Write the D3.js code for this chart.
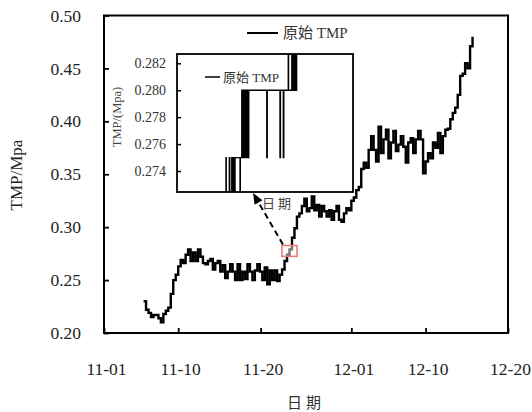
<!DOCTYPE html>
<html><head><meta charset="utf-8">
<script src="https://cdn.jsdelivr.net/npm/d3@7"></script>
<style>body{margin:0;background:#fff}svg text{font-family:"Liberation Serif","Times New Roman","Noto Sans CJK SC",serif}</style>
</head><body>
<svg id="c" width="532" height="412"></svg>
<script>
// ---------------- data ----------------
const xTickLabels = ["11-01","11-10","11-20","12-01","12-10","12-20"];
const yTicks = [0.20,0.25,0.30,0.35,0.40,0.45,0.50];
const year = 2019;
const seriesStart = "2019-11-05 19:12";   // first sample
const stepHours = 7.2;                   // sampling step
const tmp = [
0.230,0.222,0.219,0.215,0.217,0.217,0.214,0.210,0.218,0.221,
0.224,0.237,0.250,0.255,0.263,0.269,0.266,0.274,0.279,0.268,
0.276,0.268,0.279,0.272,0.266,0.265,0.268,0.270,0.260,0.266,
0.268,0.258,0.264,0.252,0.258,0.265,0.258,0.250,0.265,0.250,
0.258,0.251,0.265,0.258,0.250,0.259,0.265,0.258,0.250,0.262,
0.246,0.259,0.250,0.259,0.249,0.255,0.260,0.268,0.274,0.279,
0.290,0.299,0.310,0.313,0.320,0.327,0.315,0.318,0.329,0.316,
0.321,0.310,0.320,0.315,0.310,0.316,0.307,0.315,0.320,0.307,
0.305,0.313,0.318,0.316,0.325,0.328,0.335,0.338,0.355,0.361,
0.356,0.373,0.386,0.373,0.362,0.395,0.370,0.383,0.392,0.365,
0.380,0.391,0.372,0.378,0.386,0.376,0.361,0.380,0.384,0.370,
0.383,0.391,0.383,0.351,0.362,0.370,0.365,0.380,0.375,0.389,
0.370,0.386,0.392,0.393,0.402,0.408,0.413,0.425,0.443,0.445,
0.455,0.450,0.471,0.480
];
// zoomed window (red box)
const zoomWindow = {t0:"2019-11-22 14:00", t1:"2019-11-24 10:00", v0:0.2724, v1:0.2827};
// inset series (raw TMP within zoom window; time in window units 0..100)
const insetYTicks = [0.274,0.276,0.278,0.280,0.282];
const insetT = [0,27.8,28.0,29.7,30.0,31.1,31.6,32.0,32.5,33.0,35.8,36.0,36.8,37.3,37.8,38.3,38.8,39.3,39.8,40.3,40.8,51.0,51.3,58.5,58.8,60.4,60.7,63.2,63.4,65.2,65.7,66.2,66.7,67.2,67.6,68.0,100];
const insetTMP = [0.2715,0.275,0.2715,0.275,0.2715,0.275,0.2715,0.275,0.2715,0.275,0.2715,0.275,0.280,0.275,0.280,0.275,0.280,0.275,0.280,0.275,0.280,0.275,0.280,0.275,0.280,0.275,0.280,0.2835,0.280,0.2835,0.280,0.2835,0.280,0.2835,0.280,0.2835,0.2835];

// ---------------- layout ----------------
const svg = d3.select("#c");
const L=104, R=508, T=15.5, B=333;
const parseMD = d => d3.timeParse("%Y-%m-%d")(year+"-"+d);
const parseDT = d3.timeParse("%Y-%m-%d %H:%M");
const x = d3.scaleTime().domain([parseMD("11-01"), parseMD("12-20")]).range([L,R]);
const y = d3.scaleLinear().domain([0.20,0.50]).range([B,T]);
const t0 = parseDT(seriesStart);
const pts = tmp.map((v,i)=>({t:new Date(t0.getTime()+i*stepHours*3600e3), v}));

// main line
svg.append("path").datum(pts)
  .attr("d", d3.line().x(d=>x(d.t)).y(d=>y(d.v)).curve(d3.curveStepAfter))
  .attr("fill","none").attr("stroke","#000").attr("stroke-width",2.4);

// axes (ticks inward)
const xAxis = d3.axisBottom(x).tickValues(xTickLabels.map(parseMD)).tickFormat((d,i)=>xTickLabels[i]).tickSize(-5).tickPadding(30);
const gx = svg.append("g").attr("transform",`translate(0,${B})`).call(xAxis);
const yAxis = d3.axisLeft(y).tickValues(yTicks).tickFormat(d3.format(".2f")).tickSize(-5).tickPadding(23);
const gy = svg.append("g").attr("transform",`translate(${L},0)`).call(yAxis);
[gx,gy].forEach(g=>{g.select(".domain").remove();
  g.selectAll("text").attr("font-size",17.5).attr("fill","#222").style("font-family",'"Liberation Serif",serif');
  g.selectAll("line").attr("stroke","#000").attr("stroke-width",1.8);});
gx.selectAll("text").attr("dx",2);
// frame
svg.append("rect").attr("x",L).attr("y",T).attr("width",R-L).attr("height",B-T)
  .attr("fill","none").attr("stroke","#000").attr("stroke-width",2);

// axis titles
svg.append("text").attr("transform","translate(22,175) rotate(-90)").attr("text-anchor","middle")
  .attr("font-size",17).attr("fill","#222").text("TMP/Mpa");
svg.append("text").attr("x",306).attr("y",408).attr("text-anchor","middle")
  .attr("font-size",15).attr("fill","#333").attr("letter-spacing",4).text("日期");

// legend
svg.append("line").attr("x1",247).attr("x2",278).attr("y1",33).attr("y2",33).attr("stroke","#000").attr("stroke-width",2);
svg.append("text").attr("x",283).attr("y",38).attr("font-size",15).attr("fill","#333").text("原始 TMP");

// red zoom box
const bx0=x(parseDT(zoomWindow.t0)), bx1=x(parseDT(zoomWindow.t1)), by0=y(zoomWindow.v1), by1=y(zoomWindow.v0);
svg.append("rect").attr("x",bx0).attr("y",by0).attr("width",bx1-bx0).attr("height",by1-by0)
  .attr("fill","rgba(255,255,255,0.45)").attr("stroke","#ec7b7b").attr("stroke-width",1.6);

// dashed arrow from box to inset
const ax0=bx0+1, ay0=by0-1, ax1=253, ay1=193;
const dx=ax1-ax0, dy=ay1-ay0, len=Math.hypot(dx,dy), ux=dx/len, uy=dy/len;
const head=11, hw=4.5;
const bxh=ax1-ux*head, byh=ay1-uy*head;
svg.append("line").attr("x1",ax0).attr("y1",ay0).attr("x2",bxh+ux*2).attr("y2",byh+uy*2)
  .attr("stroke","#000").attr("stroke-width",2).attr("stroke-dasharray","6,4");
svg.append("path").attr("d",`M${ax1},${ay1}L${bxh-uy*hw},${byh+ux*hw}L${bxh+uy*hw},${byh-ux*hw}Z`).attr("fill","#000");

// ---------------- inset ----------------
const iL=177, iR=353, iT=54, iB=192;
const ix = d3.scaleLinear().domain([0,100]).range([iL,iR]);
const iy = d3.scaleLinear().domain([0.274,0.282]).range([171,63.3]);
svg.append("rect").attr("x",iL).attr("y",iT).attr("width",iR-iL).attr("height",iB-iT).attr("fill","#fff");
svg.append("clipPath").attr("id","ic").append("rect").attr("x",iL).attr("y",iT).attr("width",iR-iL).attr("height",iB-iT);
const ipts = insetT.map((t,i)=>({t, v:insetTMP[i]}));
svg.append("path").datum(ipts).attr("clip-path","url(#ic)")
  .attr("d", d3.line().x(d=>ix(d.t)).y(d=>iy(d.v)).curve(d3.curveStepAfter))
  .attr("fill","none").attr("stroke","#000").attr("stroke-width",1.3);
const giy = svg.append("g").attr("transform",`translate(${iL},0)`)
  .call(d3.axisLeft(iy).tickValues(insetYTicks).tickFormat(d3.format(".3f")).tickSize(-4).tickPadding(11));
giy.select(".domain").remove();
giy.selectAll("text").attr("font-size",14).attr("fill","#333").style("font-family",'"Liberation Serif",serif');
giy.selectAll("line").attr("stroke","#000").attr("stroke-width",1.5);
svg.append("rect").attr("x",iL).attr("y",iT).attr("width",iR-iL).attr("height",iB-iT)
  .attr("fill","none").attr("stroke","#000").attr("stroke-width",1.8);
svg.append("text").attr("transform","translate(121,117) rotate(-90)").attr("text-anchor","middle")
  .attr("font-size",12.5).attr("fill","#444").text("TMP/(Mpa)");
svg.append("text").attr("x",278).attr("y",208).attr("text-anchor","middle")
  .attr("font-size",13).attr("fill","#444").attr("letter-spacing",3).text("日期");
// inset legend
svg.append("line").attr("x1",205).attr("x2",220).attr("y1",77).attr("y2",77).attr("stroke","#000").attr("stroke-width",1.5);
svg.append("text").attr("x",223).attr("y",81.5).attr("font-size",13).attr("fill","#333").text("原始 TMP");
</script>
</body></html>
